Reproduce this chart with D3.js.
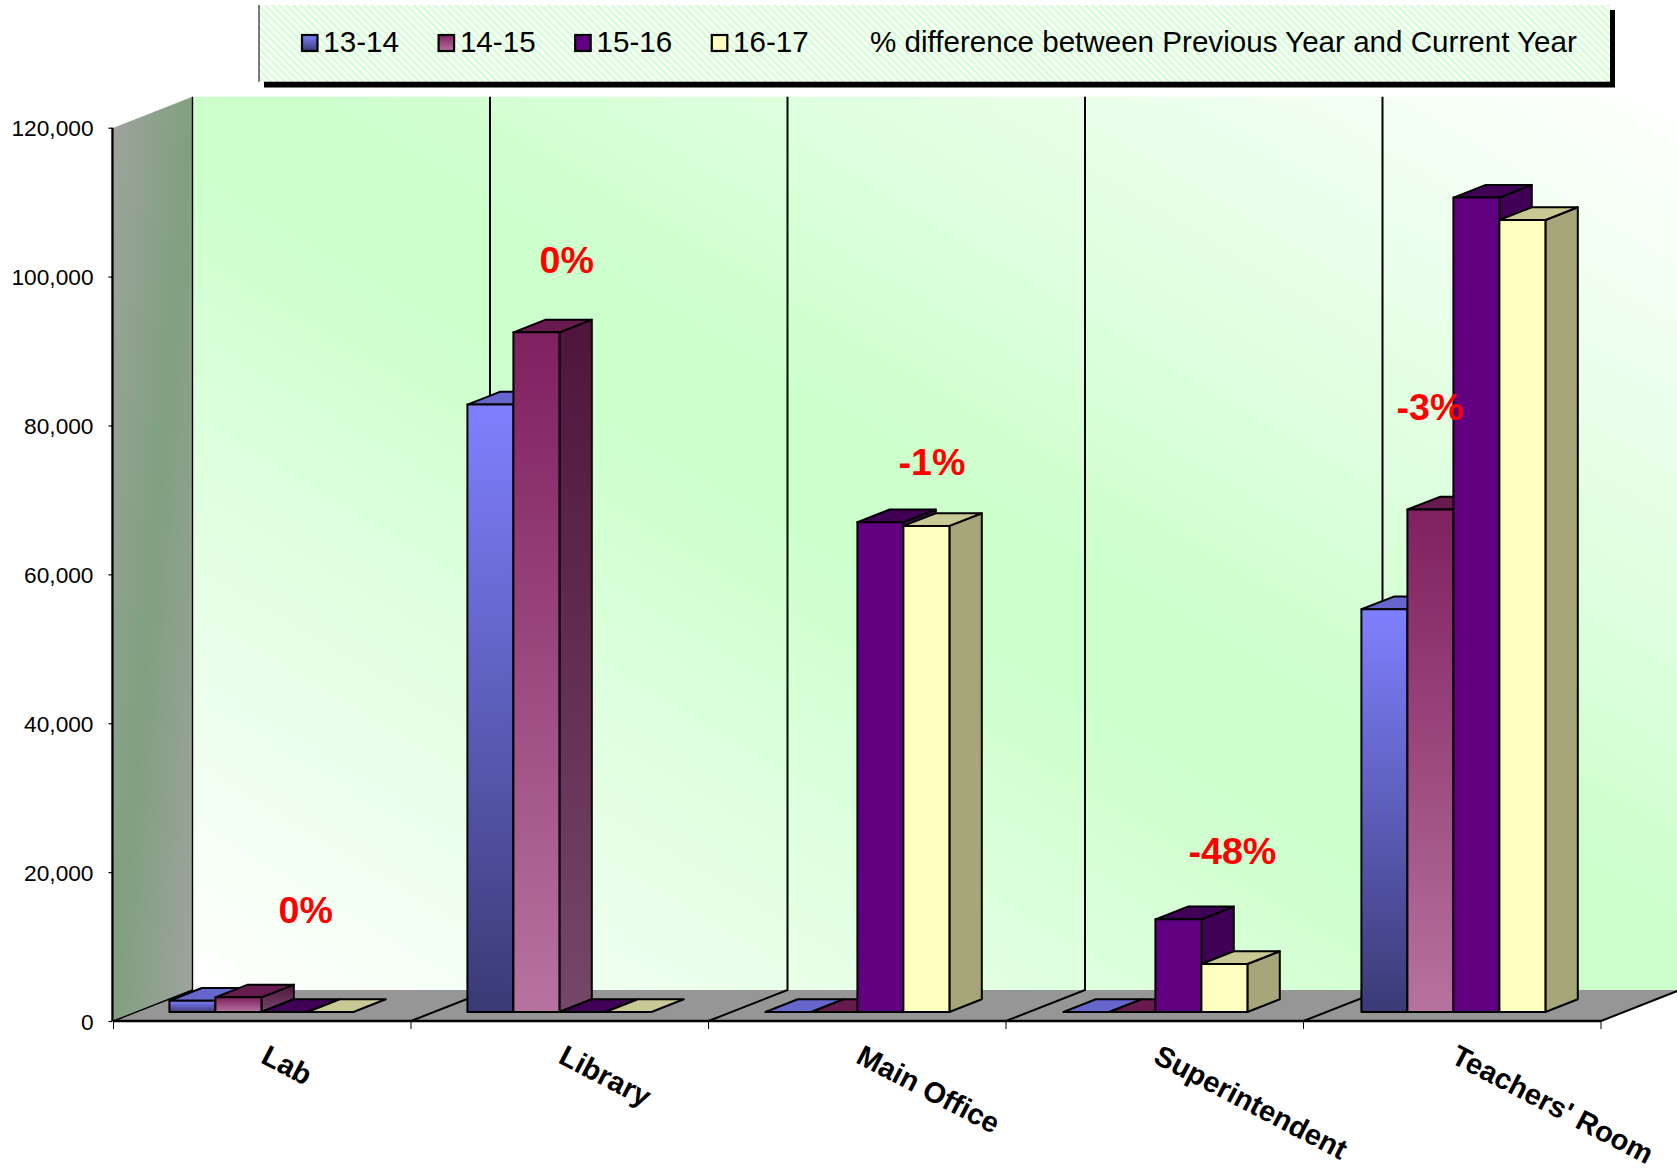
<!DOCTYPE html>
<html>
<head>
<meta charset="utf-8">
<title>% difference between Previous Year and Current Year</title>
<script src="https://cdn.jsdelivr.net/npm/d3@7"></script>
<style>
  body { margin: 0; background: #fff; }
  svg { display: block; }
  text { font-family: "Liberation Sans", Arial, sans-serif; }
</style>
</head>
<body>
<svg id="chart" width="1677" height="1170"></svg>
<script>
// data
const categories = ['Lab', 'Library', 'Main Office', 'Superintendent', "Teachers' Room"];
const seriesNames = ['13-14', '14-15', '15-16', '16-17'];
const values1314 = [1520, 81600, 0, 0, 54100];
const values1415 = [1970, 91300, 0, 0, 67500];
const values1516 = [0, 0, 65800, 12450, 109400];
const values1617 = [0, 0, 65300, 6450, 106400];
const allValues = [values1314, values1415, values1516, values1617];
const yTicks = [0, 20000, 40000, 60000, 80000, 100000, 120000];
const pctLabels = ['0%', '0%', '-1%', '-48%', '-3%'];
const legendNote = '% difference between Previous Year and Current Year';

const svg = d3.select('#chart');
const defs = svg.append('defs');

function linearGrad(id, x1, y1, x2, y2, stops) {
  const g = defs.append('linearGradient').attr('id', id)
    .attr('x1', x1).attr('y1', y1).attr('x2', x2).attr('y2', y2);
  stops.forEach(([offset, color]) => {
    g.append('stop').attr('offset', offset).attr('stop-color', color);
  });
}

linearGrad('wallGrad', 0, 1, 1, 0, [[0, '#ffffff'], [0.47, '#ccffcc'], [0.53, '#ccffcc'], [1, '#ffffff']]);
linearGrad('sideGrad', 0, 0, 1, 1, [[0, '#a0a39e'], [0.5, '#80a080'], [1, '#a0a39e']]);
linearGrad('blueFront', 0, 0, 0, 1, [[0, '#8080ff'], [1, '#3a3a75']]);
linearGrad('plumFront', 0, 0, 0, 1, [[0, '#802060'], [1, '#b7739f']]);
linearGrad('plumSide', 0, 0, 0, 1, [[0, '#50143c'], [1, '#74486a']]);

const hatch = defs.append('pattern').attr('id', 'hatch')
  .attr('width', 5).attr('height', 5)
  .attr('patternUnits', 'userSpaceOnUse')
  .attr('patternTransform', 'rotate(45)');
hatch.append('rect').attr('width', 5).attr('height', 5).attr('fill', '#ffffff');
hatch.append('rect').attr('width', 5).attr('height', 2.3).attr('fill', '#d0ffd0');

// face colours per series: front, top, side
const faces = [
  { front: 'url(#blueFront)', top: '#6666cc', side: '#50508f' },
  { front: 'url(#plumFront)', top: '#661a4d', side: 'url(#plumSide)' },
  { front: '#600080', top: '#400055', side: '#400055' },
  { front: '#ffffc0', top: '#c9c996', side: '#a6a67a' },
];

// scales
const y = d3.scaleLinear().domain([0, 120000]).range([1021, 127.7]);
const x = d3.scaleBand().domain(categories).range([113.5, 1601]);
// the bars step a hair wider than the axis divisions in the original
const xBars = d3.scaleBand().domain(categories).range([113.5, 1603.5]);
const xInner = d3.scaleBand().domain(seriesNames).range([33, 217]);

// oblique depth: z=0 is the front edge of the floor, z=1 the back wall
const depthX = 79, depthY = 31;
const zFront = 0.29, zBack = 0.70;
const px = (sx, z) => sx + z * depthX;
const py = (v, z) => y(v) - z * depthY;
const line = d3.line();

const floorEnd = x.range()[1];
const axisStart = x.range()[0];

// back wall
svg.append('rect')
  .attr('x', px(axisStart, 1)).attr('y', py(120000, 1))
  .attr('width', floorEnd - axisStart)
  .attr('height', y(0) - y(120000))
  .attr('fill', 'url(#wallGrad)');

// side wall
svg.append('path')
  .attr('d', line([
    [px(axisStart, 0), py(120000, 0)], [px(axisStart, 1), py(120000, 1)],
    [px(axisStart, 1), py(0, 1)], [px(axisStart, 0), py(0, 0)],
  ]) + 'Z')
  .attr('fill', 'url(#sideGrad)');

// floor
svg.append('path')
  .attr('d', line([
    [px(axisStart, 0), py(0, 0)], [px(floorEnd, 0), py(0, 0)],
    [px(floorEnd, 1), py(0, 1)], [px(axisStart, 1), py(0, 1)],
  ]) + 'Z')
  .attr('fill', '#969696');

// wall divisions, running over the floor and up the back wall
const divisions = categories.map((c) => x(c)).concat([floorEnd]);
svg.append('g').selectAll('path').data(divisions).join('path')
  .attr('d', (d, i) => {
    const pts = [[px(d, 0), py(0, 0)], [px(d, 1), py(0, 1)]];
    if (i < divisions.length - 1) pts.push([px(d, 1), py(120000, 1)]);
    return line(pts);
  })
  .attr('fill', 'none')
  .attr('stroke', '#000')
  .attr('stroke-width', (d, i) => (i === 0 ? 1.4 : 2));

// bars, left to right so each one covers the side of the previous one
const barW = xInner.bandwidth();
categories.forEach((cat, ci) => {
  const gCat = svg.append('g').attr('class', 'category');
  seriesNames.forEach((name, si) => {
    const v = allValues[si][ci];
    const x0 = xBars(cat) + xInner(name);
    const x1 = x0 + barW;
    const corner = (sx, val, z) => [px(sx, z), py(val, z)];
    const face = (pts, fill) => gCat.append('path')
      .attr('d', line(pts) + 'Z')
      .attr('fill', fill)
      .attr('stroke', '#000')
      .attr('stroke-width', 2)
      .attr('stroke-linejoin', 'round');

    if (v > 0) {
      face([corner(x1, v, zFront), corner(x1, v, zBack), corner(x1, 0, zBack), corner(x1, 0, zFront)], faces[si].side);
    }
    face([corner(x0, v, zFront), corner(x0, v, zBack), corner(x1, v, zBack), corner(x1, v, zFront)], faces[si].top);
    if (v > 0) {
      face([corner(x0, v, zFront), corner(x1, v, zFront), corner(x1, 0, zFront), corner(x0, 0, zFront)], faces[si].front);
    }
  });
});

// y axis
const yAxis = d3.axisLeft(y).tickValues(yTicks).tickFormat(d3.format(',')).tickSize(4).tickPadding(15);
const gY = svg.append('g').attr('transform', `translate(${px(axisStart, 0) - 1},0)`).call(yAxis);
gY.selectAll('text').attr('font-size', 22.7).attr('fill', '#000').attr('y', 0.8)
  .style('font-family', '"Liberation Sans", Arial, sans-serif');
gY.selectAll('.tick line').attr('stroke', '#000').attr('stroke-width', 1.2);
gY.select('.domain').attr('stroke', '#000').attr('stroke-width', 2.4).attr('d', `M0,${y(120000)}V${y(0)}`);

// floor front edge and category ticks
svg.append('line')
  .attr('x1', axisStart).attr('x2', floorEnd)
  .attr('y1', y(0)).attr('y2', y(0))
  .attr('stroke', '#000').attr('stroke-width', 2.6);
svg.append('g').selectAll('line').data(divisions).join('line')
  .attr('x1', (d) => d).attr('x2', (d) => d)
  .attr('y1', y(0)).attr('y2', y(0) + 8)
  .attr('stroke', '#000').attr('stroke-width', 1);

// category labels
svg.append('g').selectAll('text').data(categories).join('text')
  .attr('transform', (d) => `translate(${x(d) + 146},1062) rotate(27.5)`)
  .attr('font-size', 29)
  .attr('font-weight', 'bold')
  .attr('fill', '#000')
  .text((d) => d);

// red percentage notes; they sit on the chart as loose text boxes
const pctAnchors = [[278.5, 923], [539.5, 272.5], [898.5, 474.5], [1188.5, 864], [1396.5, 419.5]];
svg.append('g').selectAll('text').data(pctLabels).join('text')
  .attr('x', (d, i) => pctAnchors[i][0])
  .attr('y', (d, i) => pctAnchors[i][1])
  .attr('font-size', 37.6)
  .attr('font-weight', 'bold')
  .attr('fill', '#ff0000')
  .text((d) => d);

// legend
const legend = svg.append('g');
legend.append('rect').attr('x', 264).attr('y', 10).attr('width', 1351).attr('height', 77.5).attr('fill', '#000');
legend.append('rect').attr('x', 259).attr('y', 5).attr('width', 1351).attr('height', 76.7).attr('fill', 'url(#hatch)');
legend.append('line').attr('x1', 259).attr('x2', 259).attr('y1', 5).attr('y2', 81.7)
  .attr('stroke', '#222').attr('stroke-width', 1.2);

const legendStep = 136.6;
const legendItems = legend.selectAll('g.item').data(seriesNames).join('g')
  .attr('class', 'item')
  .attr('transform', (d, i) => `translate(${301 + i * legendStep},0)`);
legendItems.append('rect')
  .attr('x', 1).attr('y', 35).attr('width', 15.5).attr('height', 16)
  .attr('fill', (d, i) => faces[i].front)
  .attr('stroke', '#000').attr('stroke-width', 2.2);
legendItems.append('text')
  .attr('x', 22.3).attr('y', 51.7)
  .attr('font-size', 29.6)
  .attr('fill', '#000')
  .text((d) => d);
legend.append('text')
  .attr('x', 870).attr('y', 51.7)
  .attr('font-size', 29.6)
  .attr('fill', '#000')
  .text(legendNote);
</script>
</body>
</html>
